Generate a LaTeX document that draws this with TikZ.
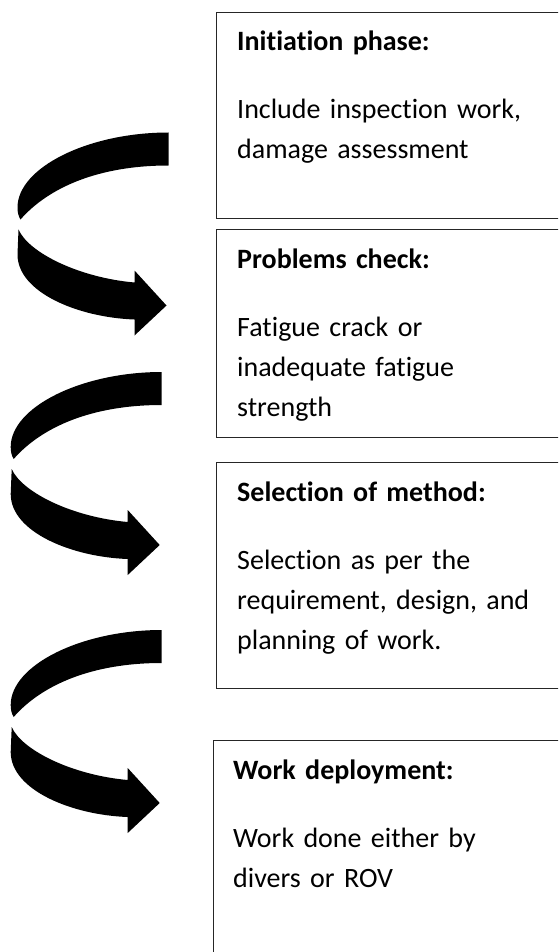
\documentclass[tikz,border=0pt]{standalone}
\usepackage{fontspec}
\setmainfont{Carlito}[Ligatures=NoCommon]

\tikzset{
  stage/.style={draw=black!85, line width=1.2pt, rectangle, anchor=north west,
    inner sep=0pt, minimum width=400pt},
  stagetext/.style={anchor=base west, text width=320pt, align=left, inner sep=0pt,
    font=\fontsize{28}{40}\selectfont},
  turnarrow/.pic={
    % back band, tapering off on the left
    \fill (0,0) .. controls (-80,0) and (-151,35) .. (-151,75)
      .. controls (-151,80) and (-150,84) .. (-148,87)
      .. controls (-120,55) and (-70,33) .. (0,33) -- cycle;
    % front band with the head
    \fill (-150,97) -- (-151,122) .. controls (-151,160) and (-90,185) .. (-34,187)
      -- (-34,203) -- (-2,173) -- (-34,138) -- (-34,150)
      .. controls (-90,145) and (-140,120) .. (-150,97) -- cycle;
  }
}

\begin{document}
\begin{tikzpicture}[x=1pt,y=-1pt]
\useasboundingbox (0,0) rectangle (558,952);
\clip (0,0) rectangle (558,952);

% the four stages
\node[stage, minimum height=206pt] (init) at (216,12) {};
\node[stage, minimum height=208pt] (check) at (216,229) {};
\node[stage, minimum height=226pt] (method) at (216,462) {};
\node[stage, minimum height=260pt] (deploy) at (213,740) {};

\node[stagetext] (initText) at ([shift={(21,39)}]init.north west)
  {\textbf{Initiation phase:}\\[28pt]Include inspection work,\\damage assessment};
\node[stagetext] (checkText) at ([shift={(21,39)}]check.north west)
  {\textbf{Problems check:}\\[28pt]Fatigue crack or\\inadequate fatigue\\strength};
\node[stagetext] (methodText) at ([shift={(21,39)}]method.north west)
  {\textbf{Selection of method:}\\[28pt]Selection as per the\\requirement, design, and\\planning of work.};
\node[stagetext] (deployText) at ([shift={(20,39)}]deploy.north west)
  {\textbf{Work deployment:}\\[28pt]Work done either by\\divers or ROV};

% turning arrows between the stages
\pic at (168.5,132.5) {turnarrow};
\pic at (161.7,372) {turnarrow};
\pic at (161.7,630) {turnarrow};
\end{tikzpicture}
\end{document}
